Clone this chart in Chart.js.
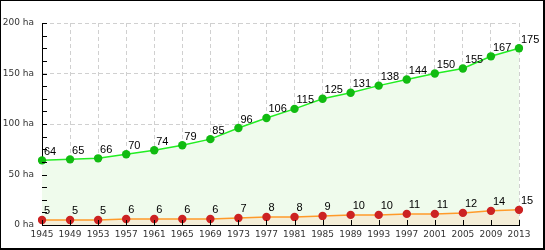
<!DOCTYPE html>
<html>
<head>
<meta charset="utf-8">
<script src="https://cdn.jsdelivr.net/npm/chart.js@4"></script>
<style>
  html, body { margin: 0; padding: 0; background: #fff; }
  #box {
    width: 545px; height: 250px; box-sizing: border-box;
    border-top: 1px solid #000; border-left: 1px solid #000;
    border-right: 2px solid #000; border-bottom: 2px solid #000;
    position: relative; overflow: hidden;
  }
  #myChart { position: absolute; left: -1px; top: -1px; }
</style>
</head>
<body>
<div id="box"><canvas id="myChart" width="545" height="250"></canvas></div>
<script>
var years = ["1945", "1949", "1953", "1957", "1961", "1965", "1969", "1973", "1977",
    "1981", "1985", "1989", "1993", "1997", "2001", "2005", "2009", "2013"];
var greenValues = [64, 65, 66, 70, 74, 79, 85, 96, 106, 115, 125, 131, 138, 144, 150, 155, 167, 175];
var redValues = [5, 5, 5, 6, 6, 6, 6, 7, 8, 8, 9, 10, 10, 11, 11, 12, 14, 15];
var yTicks = [0, 50, 100, 150, 200];

// value labels + small black ticks pointing into the plot
var extras = {
    id: "extras",
    afterDatasetsDraw: function (chart) {
        var ctx = chart.ctx;
        var xs = chart.scales.x, ys = chart.scales.y;
        var area = chart.chartArea;
        ctx.save();
        ctx.strokeStyle = "#000";
        ctx.lineWidth = 1;
        ctx.setLineDash([]);
        ctx.beginPath();
        for (var v = 0; v <= 200; v += 12.5) {
            var py = Math.round(ys.getPixelForValue(v)) + 0.5;
            ctx.moveTo(area.left, py);
            ctx.lineTo(area.left + 5, py);
        }
        for (var i = 0; i < years.length; i++) {
            var px = Math.round(xs.getPixelForValue(i)) + 0.5;
            ctx.moveTo(px, area.bottom);
            ctx.lineTo(px, area.bottom - 5);
        }
        ctx.stroke();

        ctx.font = "11px 'Liberation Sans', Arial, sans-serif";
        ctx.fillStyle = "#000";
        ctx.textAlign = "left";
        ctx.textBaseline = "bottom";
        chart.data.datasets.forEach(function (ds, di) {
            var meta = chart.getDatasetMeta(di);
            meta.data.forEach(function (pt, i) {
                ctx.fillText(String(ds.data[i]), pt.x + 2, pt.y - 3);
            });
        });
        ctx.restore();
    },
};

var data = {
    labels: years,
    datasets: [
        {
            label: "red",
            data: redValues,
            borderColor: "#ff9a2a",
            borderWidth: 1.5,
            backgroundColor: "#f4eed8",
            fill: "origin",
            pointRadius: 4.2,
            pointBackgroundColor: "#cc2222",
            pointBorderColor: "#cc2222",
            pointBorderWidth: 0,
            tension: 0,
        },
        {
            label: "green",
            data: greenValues,
            borderColor: "#22ee22",
            borderWidth: 1.5,
            backgroundColor: "#effbec",
            fill: "origin",
            pointRadius: 4.2,
            pointBackgroundColor: "#11bb11",
            pointBorderColor: "#11bb11",
            pointBorderWidth: 0,
            tension: 0,
        },
    ],
};

var config = {
    type: "line",
    data: data,
    plugins: [extras],
    options: {
        animation: false,
        responsive: false,
        layout: { padding: { left: 0, top: 23, right: 26, bottom: 0 } },
        plugins: { legend: { display: false }, tooltip: { enabled: false } },
        scales: {
            x: {
                offset: false,
                afterFit: function (s) { s.height = 25; },
                grid: { color: "#d0d0d0", drawTicks: false, lineWidth: 1 },
                border: { color: "#000", width: 1, dash: [4, 3] },
                ticks: {
                    color: "#333",
                    font: { family: "'DejaVu Sans', Verdana, sans-serif", size: 9 },
                    maxRotation: 0,
                    autoSkip: false,
                    padding: 4,
                },
            },
            y: {
                min: 0,
                max: 200,
                afterFit: function (s) { s.width = 42; },
                afterBuildTicks: function (s) {
                    s.ticks = yTicks.map(function (v) { return { value: v }; });
                },
                grid: { color: "#d0d0d0", drawTicks: false, lineWidth: 1 },
                border: { color: "#000", width: 1, dash: [4, 3] },
                ticks: {
                    color: "#333",
                    font: { family: "'DejaVu Sans', Verdana, sans-serif", size: 9 },
                    padding: 8,
                    callback: function (v) { return v + " ha"; },
                },
            },
        },
    },
};

var myChart = new Chart(document.getElementById("myChart"), config);
</script>
</body>
</html>
